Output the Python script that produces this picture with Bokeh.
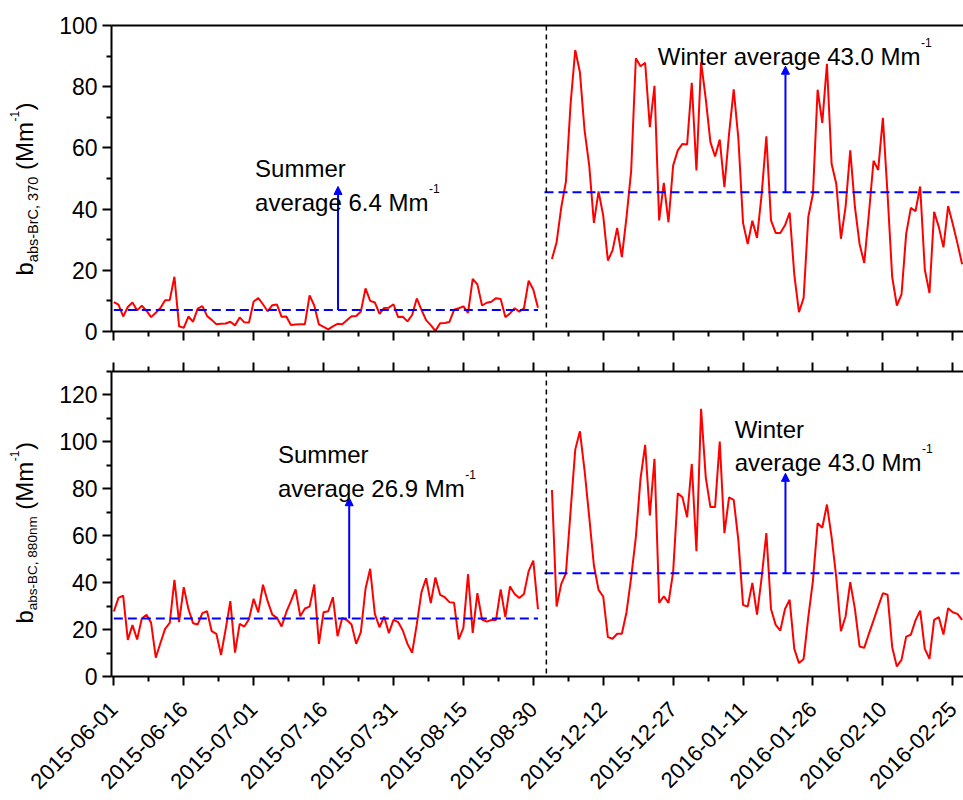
import math
import pandas as pd
from bokeh.plotting import figure
from bokeh.models import Range1d, FixedTicker, LinearAxis, Span, Arrow, NormalHead, Label
from bokeh.layouts import column, row
from bokeh.embed import file_html
from bokeh.resources import INLINE

# ---------------- data ----------------
summer_start = "2015-06-01"
winter_start = "2015-12-01"

brc_summer = [9.6, 8.8, 4.9, 8.0, 9.5, 6.9, 8.4, 6.8, 4.7, 6.1,
              7.7, 10.2, 10.3, 17.9, 1.7, 1.2, 4.9, 3.2, 7.5, 8.3,
              5.1, 3.8, 2.4, 2.5, 2.6, 3.2, 2.0, 4.6, 3.0, 2.9,
              9.8, 10.9, 8.9, 6.6, 8.6, 8.8, 4.8, 4.9, 2.1, 2.3,
              2.4, 2.4, 11.8, 8.5, 2.3, 1.5, 0.7, 1.7, 2.5, 2.4,
              3.7, 5.0, 5.1, 6.5, 14.1, 10.0, 9.5, 5.8, 7.7, 7.8,
              8.9, 4.7, 4.8, 3.3, 5.4, 10.8, 7.1, 3.7, 2.1, 0.2,
              2.7, 2.8, 3.1, 7.1, 7.6, 8.2, 6.1, 17.2, 15.4, 8.5,
              9.4, 9.7, 10.9, 10.6, 4.7, 5.9, 7.6, 6.5, 7.6, 16.6,
              13.7, 7.8]

brc_winter = [23.7, 29.2, 40.6, 49.0, 74.4, 92.0, 84.7, 65.7, 54.2, 35.5,
              45.8, 37.9, 23.2, 26.5, 33.8, 24.3, 37.4, 52.6, 89.3, 86.7,
              87.8, 66.8, 80.3, 36.3, 48.6, 35.7, 54.2, 59.2, 61.3, 61.1,
              81.3, 52.6, 88.0, 76.0, 61.9, 57.2, 62.7, 47.2, 64.6, 79.1,
              63.0, 35.5, 28.6, 36.2, 30.6, 45.0, 63.8, 36.3, 32.2, 32.2,
              34.7, 38.9, 18.5, 6.3, 11.0, 37.4, 45.0, 79.0, 68.2, 87.5,
              54.8, 48.3, 30.3, 40.7, 59.2, 40.7, 28.6, 22.4, 38.4, 55.8,
              52.8, 69.8, 45.0, 17.8, 8.5, 12.1, 31.9, 40.4, 39.3, 47.4,
              20.2, 12.6, 39.1, 34.2, 27.5, 41.0, 35.1, 28.8, 22.0]

bc_summer = [27.7, 33.5, 34.5, 15.6, 21.9, 15.8, 24.7, 26.3, 22.9, 8.0,
             14.3, 20.3, 22.9, 41.2, 23.2, 38.1, 28.8, 22.7, 22.2, 27.0,
             27.8, 19.3, 18.2, 9.2, 20.2, 32.1, 10.2, 22.4, 21.3, 24.4,
             33.1, 27.3, 39.1, 32.1, 26.4, 25.0, 21.3, 27.4, 32.1, 37.1,
             25.7, 29.0, 29.8, 39.2, 13.9, 27.4, 27.8, 33.8, 17.2, 24.9,
             24.1, 22.2, 13.9, 18.9, 37.4, 45.9, 26.7, 21.0, 25.6, 18.5,
             24.1, 23.2, 19.6, 13.9, 10.1, 22.2, 35.9, 41.9, 31.3, 42.2,
             34.8, 33.8, 31.7, 31.4, 15.8, 20.7, 43.6, 18.6, 35.5, 24.3,
             23.4, 24.1, 24.1, 37.1, 25.3, 38.4, 35.2, 33.5, 35.2, 44.9,
             49.4, 28.7]

bc_winter = [79.5, 29.8, 39.5, 44.0, 70.5, 96.7, 104.5, 87.8, 67.9, 47.3,
             36.9, 34.1, 16.8, 16.1, 18.2, 18.2, 27.4, 42.3, 59.4, 84.2,
             98.7, 68.6, 92.8, 31.4, 34.2, 31.4, 44.5, 78.1, 76.4, 67.9,
             90.6, 53.4, 114.1, 84.9, 72.2, 72.2, 100.1, 61.1, 76.4, 75.3,
             58.0, 30.5, 29.8, 39.9, 26.4, 42.3, 61.1, 28.8, 22.0, 19.6,
             28.8, 32.7, 11.8, 5.7, 7.5, 25.3, 40.9, 65.3, 63.4, 73.3,
             59.4, 42.3, 19.3, 25.6, 40.2, 28.8, 12.8, 12.2, 18.2, 23.9,
             29.8, 35.5, 34.9, 12.5, 4.3, 7.1, 17.0, 17.8, 23.9, 28.1,
             11.8, 7.5, 24.1, 25.3, 17.9, 29.1, 27.4, 26.7, 24.1]

# average lines as drawn, and the texts printed on the chart
brc_avg_line = [7.0, 45.5]
bc_avg_line = [24.7, 44.0]
brc_avg_text = ["6.4", "43.0"]
bc_avg_text = ["26.9", "43.0"]

# ---------------- positions on the shared slot axis ----------------
WINTER_SLOT = 94
summer_dates = pd.date_range(summer_start, periods=len(brc_summer))
winter_dates = pd.date_range(winter_start, periods=len(brc_winter))
summer_x = [(d - summer_dates[0]).days for d in summer_dates]
winter_x = [WINTER_SLOT + (d - winter_dates[0]).days for d in winter_dates]


def slot_label(s):
    if s < WINTER_SLOT:
        d = pd.Timestamp(summer_start) + pd.Timedelta(days=s)
    else:
        d = pd.Timestamp(winter_start) + pd.Timedelta(days=s - WINTER_SLOT)
    return d.strftime("%Y-%m-%d")


X_START, X_END = -0.5, 182.3
DIVIDER = 92.8
major_x = list(range(0, 181, 15))
minor_x = [t + 7.5 for t in major_x if t + 7.5 < X_END]
x_labels = {t: slot_label(t) for t in major_x}

FONT = "Liberation Sans"
FRAME_W = 852
LABEL_W = 50          # strip holding the y-axis titles
FULL_LEFT = 111
LEFT = FULL_LEFT - LABEL_W
BIG = 24
SUP = 12
TICK_FS = "23px"
XTICK_FS = "22px"

AW = {" ": 278, "(": 333, ")": 333, "-": 333, ",": 278, ".": 278,
      "a": 556, "b": 556, "c": 500, "e": 556, "g": 556, "i": 222, "m": 833,
      "n": 556, "r": 333, "s": 500, "t": 278, "v": 500, "B": 667, "C": 722,
      "M": 833, "S": 667, "W": 944}


def tw(s, size):
    return sum(AW.get(c, 556) for c in s) * size / 1000.0


def style_axis(ax, labels=True, ticks=True):
    ax.axis_line_width = 2
    ax.axis_line_color = "black"
    ax.major_tick_line_width = 2
    ax.minor_tick_line_width = 2
    ax.major_tick_in = 0
    ax.minor_tick_in = 0
    ax.major_tick_out = 9 if ticks else 0
    ax.minor_tick_out = 5 if ticks else 0
    ax.major_label_text_font = FONT
    if labels:
        ax.major_label_text_color = "black"
        ax.major_label_text_font_size = TICK_FS
        ax.major_label_standoff = 5
    else:
        ax.major_label_text_color = None
        ax.major_label_text_font_size = "0px"
        ax.major_label_standoff = 0


def blank(p):
    p.outline_line_color = None
    p.background_fill_color = "white"
    p.border_fill_color = "white"


def make_fig(ymax, frame_h, top_border, bottom_border, y_major, y_minor, top_ticks):
    p = figure(frame_width=FRAME_W, frame_height=frame_h,
               x_range=Range1d(X_START, X_END), y_range=Range1d(0, ymax),
               x_axis_type=None, y_axis_type=None,
               output_backend="svg", toolbar_location=None,
               min_border_left=LEFT, min_border_right=0,
               min_border_top=top_border, min_border_bottom=bottom_border)
    blank(p)

    yax = LinearAxis(ticker=FixedTicker(ticks=y_major, minor_ticks=y_minor))
    style_axis(yax)
    p.add_layout(yax, "left")

    xb = LinearAxis(ticker=FixedTicker(ticks=major_x, minor_ticks=minor_x))
    style_axis(xb, labels=False)
    p.add_layout(xb, "below")

    xt = LinearAxis(ticker=FixedTicker(ticks=major_x, minor_ticks=minor_x))
    style_axis(xt, labels=False, ticks=top_ticks)
    p.add_layout(xt, "above")

    p.add_layout(Span(location=DIVIDER, dimension="height", line_color="black",
                      line_width=1.5, line_dash="5 4"))
    return p


def make_label_strip(frame_h, top_border, pieces, start_up):
    """Narrow figure left of a panel; its data units are pixels, so the
    rotated title pieces (b, subscript, (Mm, superscript, )) can be laid out."""
    q = figure(frame_width=LABEL_W, frame_height=frame_h,
               x_range=Range1d(0, LABEL_W), y_range=Range1d(0, frame_h),
               x_axis_type=None, y_axis_type=None,
               output_backend="svg", toolbar_location=None,
               min_border_left=0, min_border_right=0,
               min_border_top=top_border, min_border_bottom=0)
    blank(q)
    up = start_up
    for txt, size, xb, gap in pieces:
        up += gap
        q.add_layout(Label(x=xb, y=up, text=txt, angle=math.pi / 2,
                           text_font=FONT, text_font_size=f"{size}px", text_color="black",
                           text_baseline="alphabetic", text_align="left"))
        up += tw(txt, size)
    return q


def ylabel_pieces(sub, sub_size):
    base = 24
    return [("b", BIG, base, 0), (sub, sub_size, base + 8, 0), ("(Mm", BIG, base, tw(" ", BIG)),
            ("-1", SUP, base - 10, 0.5), (")", BIG, base, 0.5)]


def make_date_axis():
    """Full-width strip carrying the rotated date labels of the shared x axis."""
    q = figure(frame_width=FRAME_W, frame_height=2,
               x_range=Range1d(X_START, X_END), y_range=Range1d(0, 1),
               x_axis_type=None, y_axis_type=None,
               output_backend="svg", toolbar_location=None,
               min_border_left=FULL_LEFT, min_border_right=0,
               min_border_top=0, min_border_bottom=0)
    blank(q)
    ax = LinearAxis(ticker=FixedTicker(ticks=major_x, minor_ticks=[]))
    ax.axis_line_color = None
    ax.major_tick_out = 0
    ax.major_tick_in = 0
    ax.minor_tick_out = 0
    ax.minor_tick_in = 0
    ax.major_label_text_font = FONT
    ax.major_label_text_font_size = XTICK_FS
    ax.major_label_text_color = "black"
    ax.major_label_overrides = x_labels
    ax.major_label_orientation = math.pi / 4
    ax.major_label_standoff = 12
    q.add_layout(ax, "below")
    return q


def add_series(p, s_vals, w_vals, avg_line):
    p.line(summer_x, s_vals, line_color="#ff0000", line_width=2)
    p.line(winter_x, w_vals, line_color="#ff0000", line_width=2)
    p.line([summer_x[0], summer_x[-1]], [avg_line[0], avg_line[0]],
           line_color="#0000ff", line_width=2, line_dash="9 5")
    p.line([DIVIDER - 0.4, X_END + 1], [avg_line[1], avg_line[1]],
           line_color="#0000ff", line_width=2, line_dash="9 5")


def add_arrow(p, x, y0, y1):
    p.add_layout(Arrow(end=NormalHead(size=8, fill_color="#0000ff", line_color="#0000ff", line_width=1),
                       x_start=x, y_start=y0, x_end=x, y_end=y1,
                       line_color="#0000ff", line_width=2))


def add_text(p, x, y, txt, sup=None):
    p.add_layout(Label(x=x, y=y, text=txt, text_font=FONT, text_font_size=f"{BIG}px",
                       text_color="black", text_baseline="alphabetic", text_align="left"))
    if sup:
        p.add_layout(Label(x=x, y=y, x_offset=tw(txt, BIG) + 0.5, y_offset=14, text=sup,
                           text_font=FONT, text_font_size=f"{SUP}px", text_color="black",
                           text_baseline="alphabetic", text_align="left"))


# ---------------- top panel: BrC ----------------
TOP1, H1 = 25, 306
p1 = make_fig(100, H1, TOP1, 20, list(range(0, 101, 20)), list(range(10, 100, 20)), top_ticks=False)
add_series(p1, brc_summer, brc_winter, brc_avg_line)
add_arrow(p1, 48.1, brc_avg_line[0], 47.4)
add_arrow(p1, 144.1, brc_avg_line[1], 86.7)
add_text(p1, 30.3, 53.3, "Summer")
add_text(p1, 30.3, 42.0, f"average {brc_avg_text[0]} Mm", "-1")
add_text(p1, 116.7, 89.9, f"Winter average {brc_avg_text[1]} Mm", "-1")
s1 = make_label_strip(H1, TOP1, ylabel_pieces("abs-BrC, 370", 14.5), 56)

# ---------------- bottom panel: BC ----------------
TOP2, H2 = 20, 305
p2 = make_fig(130, H2, TOP2, 15, list(range(0, 121, 20)), list(range(10, 131, 20)), top_ticks=True)
add_series(p2, bc_summer, bc_winter, bc_avg_line)
add_arrow(p2, 50.5, bc_avg_line[0], 76.2)
add_arrow(p2, 144.1, bc_avg_line[1], 86.6)
add_text(p2, 35.2, 94.5, "Summer")
add_text(p2, 35.2, 80.3, f"average {bc_avg_text[0]} Mm", "-1")
add_text(p2, 133.2, 105.2, "Winter")
add_text(p2, 133.2, 91.1, f"average {bc_avg_text[1]} Mm", "-1")
s2 = make_label_strip(H2, TOP2, ylabel_pieces("abs-BC, 880nm", 13.5), 53)

p3 = make_date_axis()

layout = column(row(s1, p1), row(s2, p2), p3)
open("out.html", "w").write(file_html(layout, INLINE))
